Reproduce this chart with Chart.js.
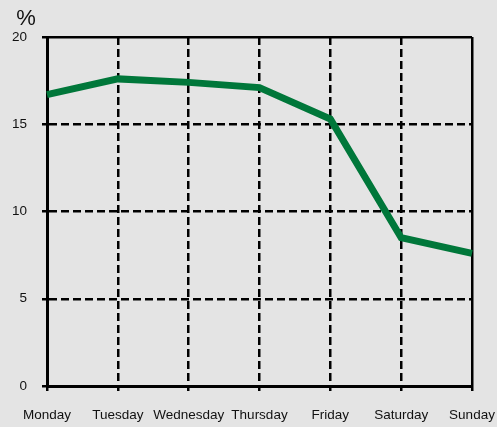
<!DOCTYPE html>
<html>
<head>
<meta charset="utf-8">
<script src="https://cdn.jsdelivr.net/npm/chart.js@4"></script>
<style>
  html, body { margin: 0; padding: 0; background: #e4e4e4; }
  #wrap { width: 497px; height: 427px; }
</style>
</head>
<body>
<div id="wrap"><canvas id="chart" width="497" height="427"></canvas></div>
<script>
const days = ['Monday', 'Tuesday', 'Wednesday', 'Thursday', 'Friday', 'Saturday', 'Sunday'];
const share = [16.7, 17.6, 17.4, 17.1, 15.3, 8.5, 7.6];
const yTicks = [0, 5, 10, 15, 20];

// "%" unit label at the top of the value axis
const unitLabel = {
    id: 'unitLabel',
    afterDraw(chart) {
        const c = chart.ctx;
        c.save();
        c.font = '22px "Liberation Sans", Arial, sans-serif';
        c.fillStyle = '#111';
        c.textAlign = 'center';
        c.textBaseline = 'alphabetic';
        c.fillText('%', 26, 25);
        c.restore();
    }
};

const ctx = document.getElementById('chart').getContext('2d');

const config = {
    type: 'line',
    data: {
        labels: days,
        datasets: [{
            data: share,
            borderColor: '#00773a',
            borderWidth: 7,
            pointRadius: 0,
            tension: 0,
            fill: false
        }]
    },
    options: {
        responsive: false,
        animation: false,
        layout: { padding: { top: 37, left: 0, right: 0, bottom: 0 } },
        plugins: {
            legend: { display: false },
            tooltip: { enabled: false }
        },
        scales: {
            x: {
                offset: false,
                afterFit(scale) {
                    scale.height = 41;
                    scale.paddingLeft = 0;
                    scale.paddingRight = 25;
                },
                grid: { color: '#000', lineWidth: 2.5, tickLength: 5, tickWidth: 2.5, tickColor: '#000' },
                border: {
                    display: true, color: '#000', width: 3,
                    dash: (c) => (c.index === days.length - 1 ? [] : [8, 4])
                },
                ticks: {
                    color: '#111',
                    padding: 16,
                    maxRotation: 0,
                    autoSkip: false,
                    font: { family: '"Liberation Sans", Arial, sans-serif', size: 13.5 }
                }
            },
            y: {
                min: 0,
                max: 20,
                afterFit(scale) { scale.width = 47; },
                afterBuildTicks(scale) { scale.ticks = yTicks.map(v => ({ value: v })); },
                grid: { color: '#000', lineWidth: 2.5, tickLength: 5, tickWidth: 2.5, tickColor: '#000' },
                border: {
                    display: true, color: '#000', width: 3,
                    dash: (c) => (c.tick && c.tick.value === 20 ? [] : [8, 4])
                },
                ticks: {
                    color: '#111',
                    padding: 15,
                    font: { family: '"Liberation Sans", Arial, sans-serif', size: 13.5 }
                }
            }
        }
    },
    plugins: [unitLabel]
};

const myChart = new Chart(ctx, config);
</script>
</body>
</html>
